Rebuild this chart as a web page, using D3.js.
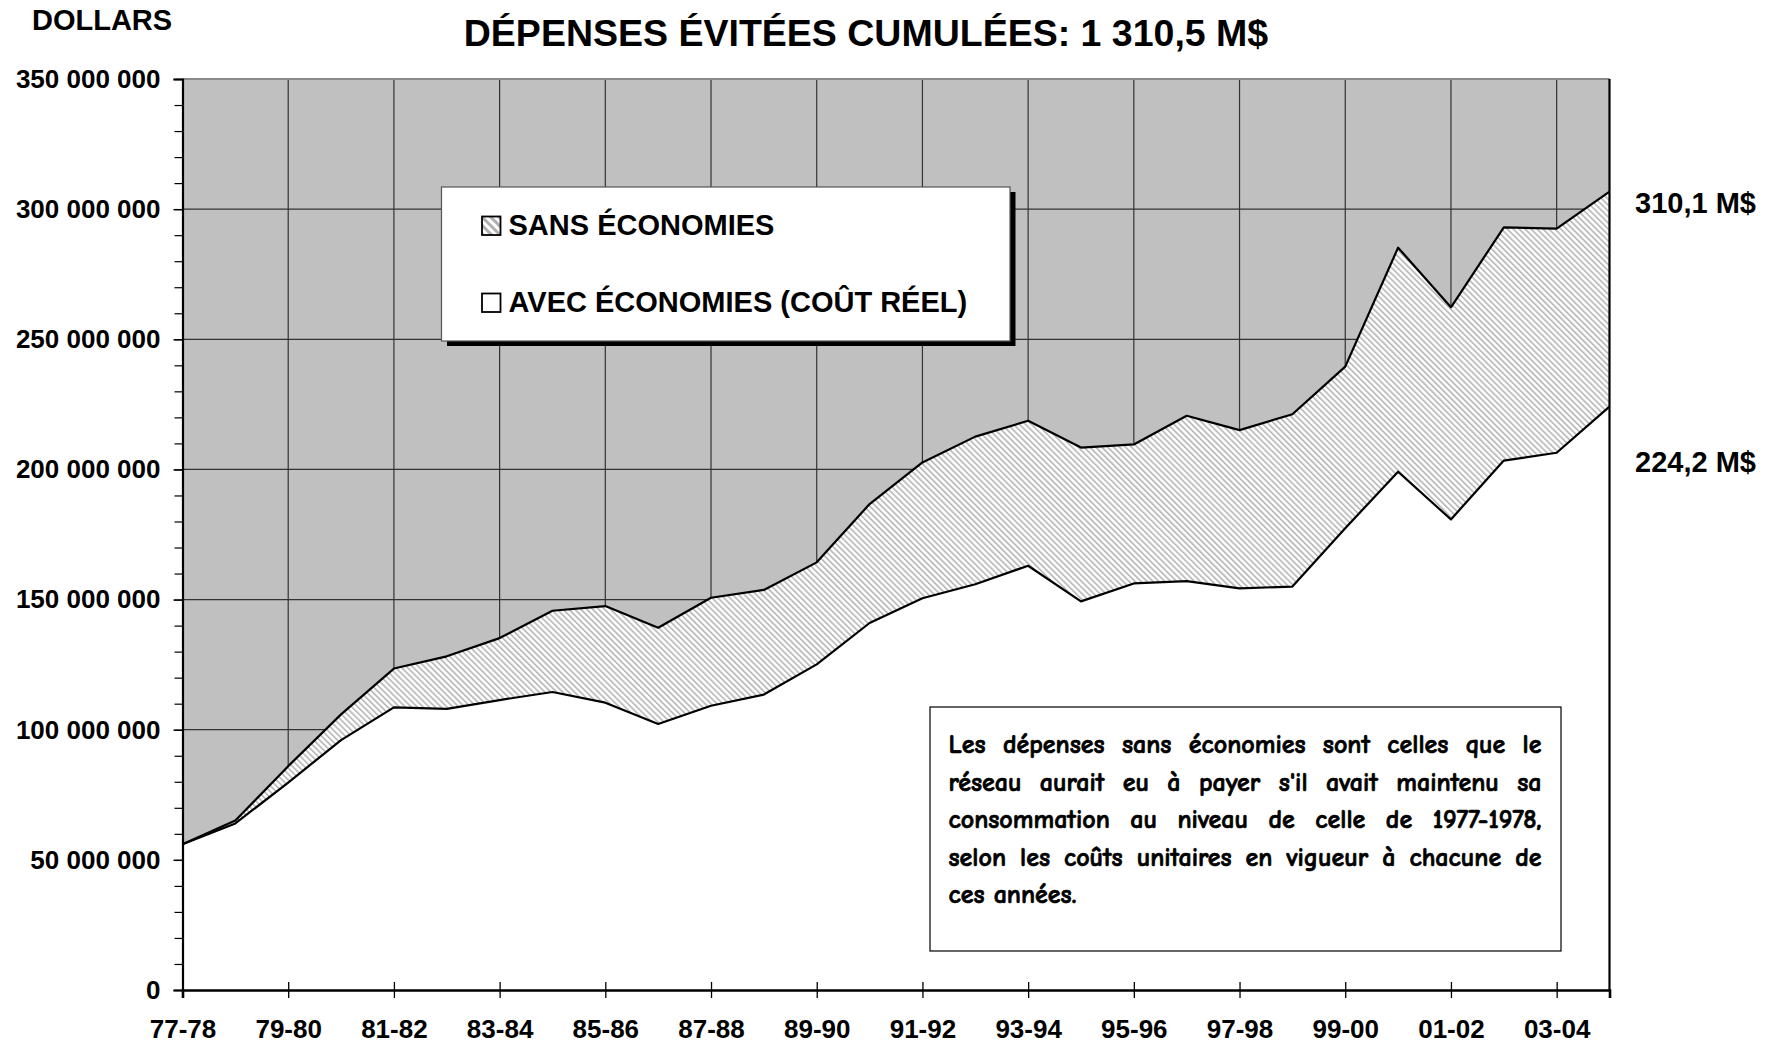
<!DOCTYPE html>
<html>
<head>
<meta charset="utf-8">
<script src="https://cdn.jsdelivr.net/npm/d3@7"></script>
<style>
  body { margin: 0; background: #fff; }
  svg { display: block; }
  text { font-family: "Liberation Sans", Arial, sans-serif; font-weight: bold; fill: #000; }
  .note text { font-family: "Comic Sans MS", "Comic Neue", "DejaVu Sans", sans-serif; font-size: 19px;
    stroke: #000; stroke-width: 0.7px; }
</style>
</head>
<body>
<div id="chart"></div>
<script>
// values in millions of dollars
const categories = ["77-78", "78-79", "79-80", "80-81", "81-82", "82-83", "83-84", "84-85", "85-86", "86-87",
  "87-88", "88-89", "89-90", "90-91", "91-92", "92-93", "93-94", "94-95", "95-96", "96-97",
  "97-98", "98-99", "99-00", "00-01", "01-02", "02-03", "03-04", "04-05"];
const sansEconomies = [56.0, 65.1, 86.0, 105.9, 123.5, 128.2, 135.2, 145.7, 147.5, 139.2,
  150.7, 153.7, 164.3, 186.7, 202.7, 212.6, 218.7, 208.4, 209.6, 220.6,
  215.1, 221.2, 239.5, 285.2, 262.3, 293.0, 292.5, 306.7];
const avecEconomies = [56.0, 64.0, 79.7, 96.0, 108.6, 108.0, 111.4, 114.5, 110.4, 102.2,
  109.2, 113.5, 125.1, 141.0, 150.5, 155.9, 163.0, 149.3, 156.2, 157.1,
  154.3, 155.0, 177.4, 199.1, 180.8, 203.4, 206.4, 224.1];
const tickLabels = ["77-78", "79-80", "81-82", "83-84", "85-86", "87-88", "89-90",
  "91-92", "93-94", "95-96", "97-98", "99-00", "01-02", "03-04"];
const yTicks = [0, 50e6, 100e6, 150e6, 200e6, 250e6, 300e6, 350e6];
const legendLabels = ["SANS ÉCONOMIES", "AVEC ÉCONOMIES (COÛT RÉEL)"];
const endLabels = ["310,1 M$", "224,2 M$"];
const title = "DÉPENSES ÉVITÉES CUMULÉES: 1 310,5 M$";
const noteLines = [
  "Les dépenses sans économies sont celles que le",
  "réseau aurait eu à payer s'il avait maintenu sa",
  "consommation au niveau de celle de 1977-1978,",
  "selon les coûts unitaires en vigueur à chacune de",
  "ces années."
];

const data = categories.map((c, i) => ({ cat: c, sans: sansEconomies[i] * 1e6, avec: avecEconomies[i] * 1e6 }));

const W = 1779, H = 1044;
const pLeft = 182.5, pRight = 1609.5, pTop = 79, pBottom = 990;

const svg = d3.select("#chart").append("svg")
  .attr("width", W).attr("height", H);

const defs = svg.append("defs");
defs.append("pattern")
  .attr("id", "hatch")
  .attr("patternUnits", "userSpaceOnUse")
  .attr("width", 4.2).attr("height", 4.2)
  .attr("patternTransform", "rotate(-45)")
  .call(p => {
    p.append("rect").attr("width", 4.2).attr("height", 4.2).attr("fill", "#fff");
    p.append("rect").attr("width", 1.8).attr("height", 4.2).attr("fill", "#bdbdbd");
  });
defs.append("pattern")
  .attr("id", "hatchBig")
  .attr("patternUnits", "userSpaceOnUse")
  .attr("width", 6).attr("height", 6)
  .attr("patternTransform", "rotate(-45)")
  .call(p => {
    p.append("rect").attr("width", 6).attr("height", 6).attr("fill", "#fff");
    p.append("rect").attr("width", 3).attr("height", 6).attr("fill", "#b0b0b0");
  });

const x = d3.scalePoint().domain(categories).range([pLeft, pRight]).padding(0);
const y = d3.scaleLinear().domain([0, 350e6]).range([pBottom, pTop]);

const fr = d3.formatLocale({ decimal: ",", thousands: " ", grouping: [3], currency: ["", " $"] });
const fmt = fr.format(",.0f");

// plot background
svg.append("rect")
  .attr("x", pLeft).attr("y", pTop)
  .attr("width", pRight - pLeft).attr("height", pBottom - pTop)
  .attr("fill", "#c0c0c0");

// gridlines
svg.append("g")
  .selectAll("line")
  .data(yTicks.filter(d => d > 0 && d < 350e6))
  .join("line")
  .attr("x1", pLeft).attr("x2", pRight)
  .attr("y1", d => y(d)).attr("y2", d => y(d))
  .attr("stroke", "#333").attr("stroke-width", 1.2);
svg.append("g")
  .selectAll("line")
  .data(tickLabels.slice(1))
  .join("line")
  .attr("x1", d => x(d)).attr("x2", d => x(d))
  .attr("y1", pTop).attr("y2", pBottom)
  .attr("stroke", "#333").attr("stroke-width", 1.2);

// areas
const hatchArea = d3.area()
  .x(d => x(d.cat))
  .y0(d => y(d.avec))
  .y1(d => y(d.sans));
const whiteArea = d3.area()
  .x(d => x(d.cat))
  .y0(y(0))
  .y1(d => y(d.avec));

svg.append("path").datum(data).attr("d", hatchArea).attr("fill", "url(#hatch)");
svg.append("path").datum(data).attr("d", whiteArea).attr("fill", "#fff");

const lineSans = d3.line().x(d => x(d.cat)).y(d => y(d.sans));
const lineAvec = d3.line().x(d => x(d.cat)).y(d => y(d.avec));
svg.append("path").datum(data).attr("d", lineSans)
  .attr("fill", "none").attr("stroke", "#000").attr("stroke-width", 2.2).attr("stroke-linejoin", "round");
svg.append("path").datum(data).attr("d", lineAvec)
  .attr("fill", "none").attr("stroke", "#000").attr("stroke-width", 2.2).attr("stroke-linejoin", "round");

// borders: top grey, right black
svg.append("line").attr("x1", pLeft).attr("x2", pRight).attr("y1", pTop).attr("y2", pTop)
  .attr("stroke", "#8a8a8a").attr("stroke-width", 2);
svg.append("line").attr("x1", pRight).attr("x2", pRight).attr("y1", pTop).attr("y2", pBottom)
  .attr("stroke", "#000").attr("stroke-width", 2.2);

// y axis
const yMinor = svg.append("g")
  .attr("transform", `translate(${pLeft},0)`)
  .call(d3.axisLeft(y).tickValues(d3.range(0, 350e6 + 1, 10e6)).tickSize(8).tickFormat(""));
yMinor.select(".domain").remove();
yMinor.selectAll("line").attr("stroke", "#000").attr("stroke-width", 1.2);

const yAxis = svg.append("g")
  .attr("transform", `translate(${pLeft},0)`)
  .call(d3.axisLeft(y).tickValues(yTicks).tickSize(9).tickPadding(13).tickFormat(fmt));
yAxis.select(".domain").attr("stroke", "#000").attr("stroke-width", 2.2);
yAxis.selectAll("line").attr("stroke", "#000").attr("stroke-width", 1.4);
yAxis.selectAll("text")
  .style("font-family", "'Liberation Sans', Arial, sans-serif")
  .style("font-weight", "bold")
  .style("font-size", "26px")
  .attr("fill", "#000");

// x axis
const xAxis = svg.append("g")
  .attr("transform", `translate(0,${pBottom})`)
  .call(d3.axisBottom(x).tickValues(tickLabels).tickSize(8));
xAxis.select(".domain").attr("stroke", "#000").attr("stroke-width", 2.6);
xAxis.selectAll(".tick line").attr("y1", -8).attr("y2", 8)
  .attr("stroke", "#000").attr("stroke-width", 1.3);
xAxis.selectAll("text")
  .attr("y", 48).attr("dy", 0)
  .style("font-family", "'Liberation Sans', Arial, sans-serif")
  .style("font-weight", "bold")
  .style("font-size", "26px")
  .attr("fill", "#000");

// titles
svg.append("text").attr("x", 32).attr("y", 30)
  .style("font-size", "29px").text("DOLLARS");
svg.append("text").attr("x", 866).attr("y", 46)
  .attr("text-anchor", "middle")
  .style("font-size", "37.5px").text(title);

// end labels
svg.selectAll("text.end")
  .data(endLabels)
  .join("text")
  .attr("class", "end")
  .attr("x", 1635)
  .attr("y", (d, i) => [213, 472][i])
  .style("font-size", "29px")
  .text(d => d);

// legend
const lg = svg.append("g");
lg.append("rect").attr("x", 447).attr("y", 192).attr("width", 568.5).attr("height", 154).attr("fill", "#000");
lg.append("rect").attr("x", 441.5).attr("y", 187).attr("width", 568.5).attr("height", 154)
  .attr("fill", "#fff").attr("stroke", "#555").attr("stroke-width", 1.2);
legendLabels.forEach((lab, i) => {
  const yy = [235, 312][i];
  lg.append("rect").attr("x", 482).attr("y", yy - 18.5).attr("width", 18.5).attr("height", 18.5)
    .attr("fill", i === 0 ? "url(#hatchBig)" : "#fff")
    .attr("stroke", "#000").attr("stroke-width", 1.8);
  lg.append("text").attr("x", 508.5).attr("y", yy)
    .style("font-size", "29px").text(lab);
});

// note box, justified text
const note = svg.append("g").attr("class", "note");
note.append("rect").attr("x", 930).attr("y", 707).attr("width", 631).attr("height", 244)
  .attr("fill", "#fff").attr("stroke", "#000").attr("stroke-width", 1.2);
const nx0 = 948.5, nx1 = 1541.5;

// pick a font size so the longest line fills the box with normal spacing
const probe = note.append("text").style("font-size", "20px").text("");
const natural = d3.max(noteLines.slice(0, -1), ln => probe.text(ln).node().getComputedTextLength());
probe.remove();
const noteSize = Math.min(26, 20 * (nx1 - nx0) / natural);

noteLines.forEach((ln, i) => {
  const yy = 753 + i * 37.5;
  const words = ln.split(" ");
  const els = words.map(w => note.append("text").attr("y", yy).style("font-size", noteSize + "px").text(w));
  const widths = els.map(e => e.node().getComputedTextLength());
  const total = d3.sum(widths);
  const last = i === noteLines.length - 1;
  const gap = last ? noteSize * 0.35 : (nx1 - nx0 - total) / (words.length - 1);
  let cx = nx0;
  els.forEach((e, j) => {
    e.attr("x", cx);
    cx += widths[j] + gap;
  });
});
</script>
</body>
</html>
